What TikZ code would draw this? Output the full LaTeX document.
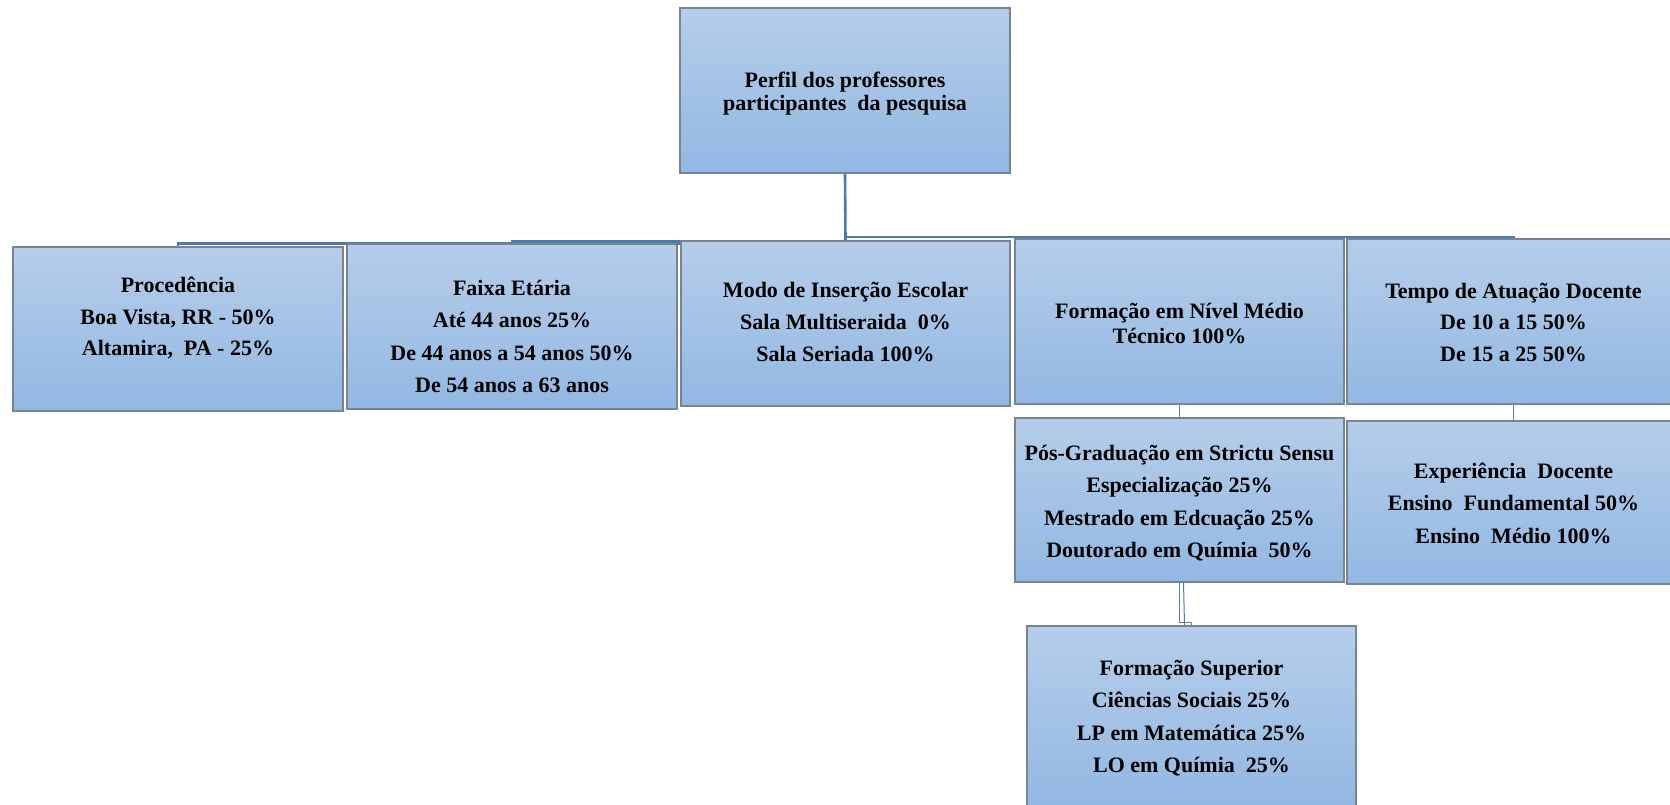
\documentclass[tikz,border=0pt]{standalone}
\usepackage{fontspec}
\setmainfont{Liberation Serif}
\usetikzlibrary{calc,backgrounds}
\definecolor{boxtop}{RGB}{181,205,233}
\definecolor{boxbot}{RGB}{147,184,227}
\definecolor{boxedge}{RGB}{120,132,145}
\definecolor{connblue}{RGB}{74,122,180}
\definecolor{conngray}{RGB}{110,125,140}
\tikzset{
  boxnode/.style={rectangle, draw=boxedge, line width=1.2pt, top color=boxtop, bottom color=boxbot, inner sep=0pt},
  txt/.style={align=center, inner sep=0pt},
  conn/.style={draw=connblue, line width=2.6pt},
  connthin/.style={draw=conngray, line width=1.4pt},
}
\begin{document}
\begin{tikzpicture}[x=1pt,y=-1pt]
\clip (0,0) rectangle (1670,804);
% boxes
\node[boxnode, minimum width=330, minimum height=165] (top) at (845,90.5) {};
\node[boxnode, minimum width=330, minimum height=164] (proc) at (178,329) {};
\node[boxnode, minimum width=330, minimum height=165] (faixa) at (512,326.5) {};
\node[boxnode, minimum width=329, minimum height=165] (modo) at (845.5,323.5) {};
\node[boxnode, minimum width=329, minimum height=165] (formm) at (1179.5,321.5) {};
\node[boxnode, minimum width=333, minimum height=165] (tempo) at (1513.5,321.5) {};
\node[boxnode, minimum width=329, minimum height=164] (pos) at (1179.5,500) {};
\node[boxnode, minimum width=333, minimum height=163] (exper) at (1513.5,502.5) {};
\node[boxnode, minimum width=329, minimum height=180] (fs) at (1191.5,716) {};
% texts
\node[txt, font=\bfseries\fontsize{22}{23}\selectfont] (ttop) at (845,93.5) {Perfil dos professores\\participantes\ \ da pesquisa};
\node[txt, font=\bfseries\fontsize{22}{31.5}\selectfont] (tproc) at (178,318) {Procedência\\Boa Vista, RR - 50\%\\Altamira,\ \ PA - 25\%};
\node[txt, font=\bfseries\fontsize{22}{32.5}\selectfont] (tfaixa) at (512,336.5) {Faixa Etária\\Até 44 anos 25\%\\De 44 anos a 54 anos 50\%\\De 54 anos a 63 anos};
\node[txt, font=\bfseries\fontsize{22}{32}\selectfont] (tmodo) at (845.5,322) {Modo de Inserção Escolar\\Sala Multiseraida\ \ 0\%\\Sala Seriada 100\%};
\node[txt, font=\bfseries\fontsize{22}{25}\selectfont] (tformm) at (1179.5,323) {Formação em Nível Médio\\Técnico 100\%};
\node[txt, font=\bfseries\fontsize{22}{31.5}\selectfont] (ttempo) at (1513.5,322) {Tempo de Atuação Docente\\De 10 a 15 50\%\\De 15 a 25 50\%};
\node[txt, font=\bfseries\fontsize{22}{32.5}\selectfont] (tpos) at (1179.5,503) {Pós-Graduação em Strictu Sensu\\Especialização 25\%\\Mestrado em Edcuação 25\%\\Doutorado em Químia\ \ 50\%};
\node[txt, font=\bfseries\fontsize{22}{32.5}\selectfont] (texper) at (1513.5,503) {Experiência\ \ Docente\\Ensino\ \ Fundamental 50\%\\Ensino\ \ Médio 100\%};
\node[txt, font=\bfseries\fontsize{22}{32.5}\selectfont] (tfs) at (1191.5,718) {Formação Superior\\Ciências Sociais 25\%\\LP em Matemática 25\%\\LO em Químia\ \ 25\%};
% connectors behind boxes
\begin{scope}[on background layer]
\fill[white] (0,0) rectangle (1670,804);
\draw[conn] (top.south) |- ($(proc.north)+(0,-3)$) -- (proc.north);
\draw[conn] (top.south) |- ($(faixa.north)+(0,-2)$) -- (faixa.north);
\draw[conn] (top.south) -- (modo.north);
\draw[conn] (top.south) |- ($(formm.north)+(0,-1.5)$) -- (formm.north);
\draw[conn] (top.south) |- ($(tempo.north)+(0,-1.5)$) -- (tempo.north);
\draw[connthin] (formm.south) -- (pos.north);
\draw[connthin, draw=connblue!80!gray] (tempo.south) -- (exper.north);
\draw[connthin] (pos.south) |- ($(fs.north)+(0,-3)$) -- (fs.north);
\draw[draw=connblue, line width=1pt] ($(pos.south)+(4,0)$) -- ($(fs.north)+(-7,0)$);
\end{scope}
\end{tikzpicture}
\end{document}
